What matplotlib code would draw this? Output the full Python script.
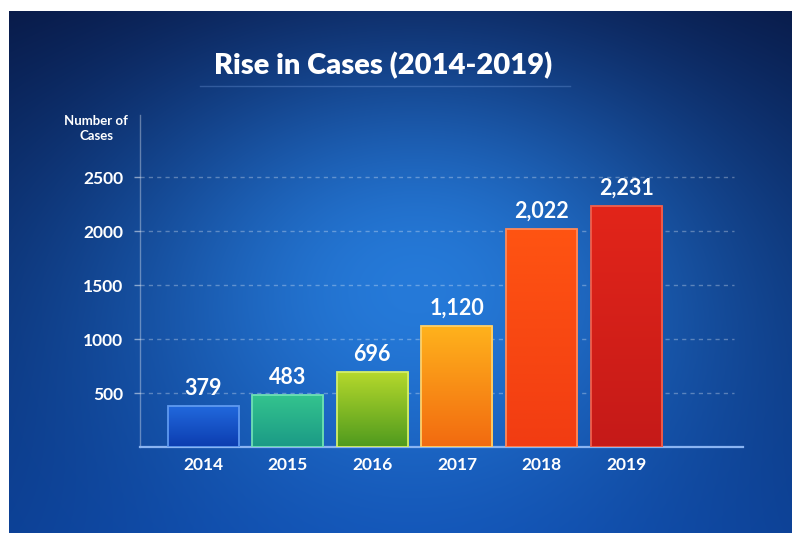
import numpy as np
import matplotlib
matplotlib.use("Agg")
import matplotlib.pyplot as plt
from matplotlib.colors import to_rgb

# data
years = ["2014", "2015", "2016", "2017", "2018", "2019"]
cases = [379, 483, 696, 1120, 2022, 2231]
y_ticks = [500, 1000, 1500, 2000, 2500]

# top / bottom colour of each bar
bar_top = ["#2168dc", "#34c48e", "#b6d92c", "#ffb21c", "#ff5412", "#e2251a"]
bar_bot = ["#0c3db0", "#1b9a86", "#4f9a1e", "#f26a10", "#f23c12", "#c51a18"]
bar_edge = ["#5f9af0", "#6fe0b4", "#d4ef6a", "#ffd068", "#ff8a5a", "#f0604c"]

W, H = 792, 533
plt.rcParams["font.family"] = ["Lato", "DejaVu Sans"]

fig = plt.figure(figsize=(W / 100, H / 100), dpi=100)
fig.patch.set_facecolor("white")


def fx(px):
    return px / W


def fy(py):
    return 1 - py / H


# background: dark navy on top, blue glow in the middle
bg_ax = fig.add_axes([0, 0, 1, 1], zorder=-5)
yy, xx = np.mgrid[0:H, 0:W]
t = (yy / H) ** 0.9
c_top = np.array(to_rgb("#091a4c"))
c_bot = np.array(to_rgb("#0d48aa"))
base = c_top[None, None, :] * (1 - t[..., None]) + c_bot[None, None, :] * t[..., None]
glow = np.exp(-(((xx - 420) / 230.0) ** 2 + ((yy - 285) / 160.0) ** 2) / 2)
c_glow = np.array(to_rgb("#2a86e8"))
img = base + glow[..., None] * (c_glow - base) * 0.85
side = np.exp(-((xx - 400) / 420.0) ** 2)
img = img * (0.78 + 0.22 * side[..., None])
img = np.clip(img, 0, 1)
img[:11, :, :] = 1
img[:, :9, :] = 1
bg_ax.imshow(img, extent=[0, W, H, 0], aspect="auto", interpolation="bilinear")
bg_ax.set_xlim(0, W)
bg_ax.set_ylim(H, 0)
bg_ax.axis("off")

# main axes
ax = fig.add_axes([fx(140), fy(447), fx(743) - fx(140), fy(115) - fy(447)])
ax.patch.set_alpha(0)
x = np.arange(len(years))
ax.set_xlim(-0.745, 6.38)
ax.set_ylim(0, 3075)

bars = ax.bar(x, cases, width=0.84, facecolor="none", edgecolor="none", zorder=3)
for i, b in enumerate(bars):
    x0, w, h = b.get_x(), b.get_width(), b.get_height()
    c1 = np.array(to_rgb(bar_top[i]))
    c2 = np.array(to_rgb(bar_bot[i]))
    s = np.linspace(0, 1, 100)[:, None]
    grad = (c1 * (1 - s) + c2 * s)[:, None, :]
    im = ax.imshow(grad, extent=[x0, x0 + w, 0, h], aspect="auto", zorder=3,
                   interpolation="bilinear")
    im.set_clip_path(b)
    ax.add_patch(plt.Rectangle((x0, 0), w, h, facecolor="none",
                               edgecolor=bar_edge[i], linewidth=1.3, zorder=4))
    ax.annotate(f"{cases[i]:,}", (x[i], h), xytext=(0, 5), textcoords="offset points",
                ha="center", va="bottom", color="white", fontsize=15.5, fontweight="bold",
                zorder=5)

# dashed grid lines
for v in y_ticks:
    ax.axhline(v, xmin=0, xmax=0.985, color="white", alpha=0.3, linewidth=1,
               linestyle=(0, (3, 3)), zorder=1)

ax.set_yticks(y_ticks)
ax.set_yticklabels([str(v) for v in y_ticks])
ax.set_xticks(x)
ax.set_xticklabels(years)
ax.tick_params(axis="y", colors="white", labelsize=12.5, length=4, width=1, pad=8)
ax.tick_params(axis="x", colors="white", labelsize=12.5, length=0, pad=7)
for lab in ax.get_xticklabels() + ax.get_yticklabels():
    lab.set_fontweight("bold")
for tk in ax.yaxis.get_ticklines():
    tk.set_alpha(0.5)

for sp in ["top", "right"]:
    ax.spines[sp].set_visible(False)
ax.spines["left"].set_color((1, 1, 1, 0.35))
ax.spines["left"].set_linewidth(1)
ax.spines["bottom"].set_color("#8ab4f2")
ax.spines["bottom"].set_linewidth(1.6)

# title and y label
fig.text(fx(383), fy(66), "Rise in Cases (2014-2019)", ha="center", va="center",
         color="white", fontsize=21, fontweight="heavy")
fig.add_artist(plt.Line2D([fx(200), fx(570)], [fy(86), fy(86)], color="#7fa8e8",
                          alpha=0.3, linewidth=1))
fig.text(fx(96), fy(129), "Number of\nCases", ha="center", va="center",
         color="white", fontsize=9.5, fontweight="bold", linespacing=1.3)

fig.savefig("out.png", dpi=100)
